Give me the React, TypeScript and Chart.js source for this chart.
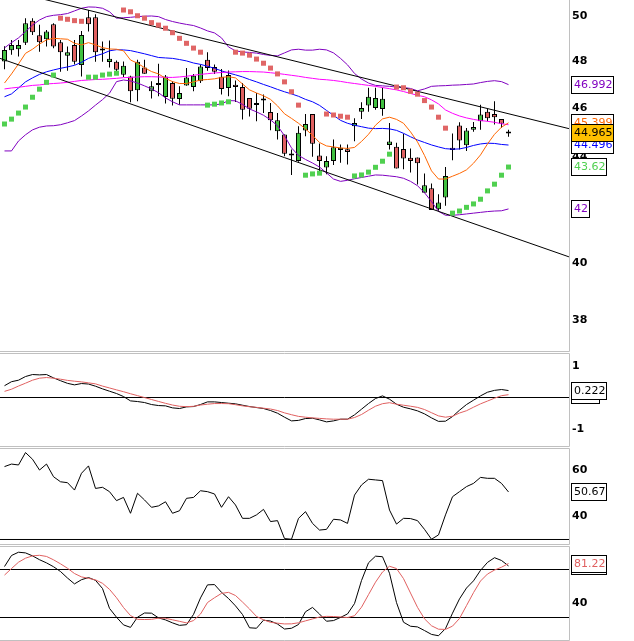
import { useEffect, useRef } from "react"
import { Chart, registerables } from "chart.js"

Chart.register(...registerables)

// daily candles
const opens = [
  47.98, 48.47, 48.52, 48.81, 49.79, 49.14, 48.96, 49.63, 48.83, 48.24,
  48.71, 47.83, 49.94, 49.94, 48.48, 47.96, 47.97, 47.41, 47.34, 46.75,
  47.73, 46.71, 47.0, 46.47, 47.06, 46.39, 46.96, 46.89, 47.14, 48.06,
  47.75, 47.33, 46.85, 46.99, 46.89, 46.43, 46.16, 46.34, 45.84, 45.05,
  44.92, 44.1, 43.86, 45.08, 45.76, 44.08, 43.6, 43.86, 44.3, 44.33,
  45.26, 45.86, 46.11, 46.01, 45.97, 44.5, 44.43, 44.34, 43.99, 44.0,
  42.62, 42.79, 41.99, 42.44, 44.39, 45.29, 44.49, 45.12, 45.46, 45.86,
  45.76, 45.56, 44.97,
]
const highs = [
  48.65, 48.93, 48.93, 49.9, 49.9, 49.6, 49.37, 49.67, 48.93, 48.64,
  48.93, 49.33, 50.27, 50.08, 48.86, 48.9, 48.03, 47.99, 47.37, 48.06,
  48.06, 47.14, 47.89, 47.4, 47.14, 46.92, 47.7, 47.45, 47.85, 48.39,
  47.85, 47.66, 47.6, 47.17, 47.06, 46.43, 46.64, 46.58, 46.22, 45.8,
  44.92, 44.32, 45.26, 45.76, 45.76, 44.56, 44.05, 44.72, 44.52, 44.52,
  45.59, 46.25, 46.86, 46.86, 46.86, 45.39, 44.59, 44.95, 44.36, 44.0,
  43.37, 42.98, 42.56, 43.62, 44.96, 45.42, 45.19, 45.43, 46.15, 45.97,
  46.29, 45.56, 45.12,
]
const lows = [
  47.65, 48.28, 48.2, 48.71, 49.15, 48.41, 48.64, 48.56, 47.54, 47.59,
  47.85, 47.34, 49.3, 47.97, 47.97, 47.73, 47.57, 47.32, 46.25, 46.29,
  47.46, 46.41, 46.5, 46.2, 46.11, 46.15, 46.95, 46.71, 47.06, 47.59,
  47.45, 46.58, 46.5, 46.26, 45.53, 45.66, 45.46, 45.8, 45.09, 44.72,
  44.05, 43.31, 43.83, 44.85, 44.03, 43.41, 43.34, 43.7, 43.79, 43.72,
  44.65, 45.56, 45.86, 45.94, 45.69, 44.32, 43.56, 43.53, 43.41, 42.94,
  42.62, 41.96, 41.93, 42.12, 43.89, 44.32, 44.26, 45.03, 45.12, 45.46,
  45.33, 45.19, 44.83,
]
const closes = [
  48.49, 48.71, 48.71, 49.67, 49.27, 48.83, 49.3, 48.64, 48.39, 48.39,
  47.97, 49.15, 49.63, 48.39, 48.46, 48.1, 47.63, 47.8, 46.71, 47.97,
  47.46, 46.92, 46.98, 47.34, 46.4, 46.64, 47.3, 47.37, 47.77, 47.7,
  47.54, 46.81, 47.4, 46.89, 45.94, 45.98, 46.14, 46.32, 45.5, 45.5,
  44.15, 44.08, 44.99, 45.35, 44.55, 43.86, 43.86, 44.41, 44.39, 44.22,
  45.39, 46.01, 46.48, 46.43, 46.4, 44.64, 43.56, 43.96, 43.86, 43.77,
  42.91, 41.96, 42.24, 43.27, 44.3, 44.68, 45.08, 45.23, 45.74, 45.59,
  45.63, 45.36, 44.965,
]

// bollinger bands
const bbUpper = [
  48.58, 48.81, 49.02, 49.3, 49.59, 49.82, 49.97, 50.03, 50.06, 50.11,
  50.23, 50.35, 50.41, 50.4, 50.35, 50.19, 49.9, 49.92, 49.94, 49.97,
  49.99, 50.0, 49.97, 49.84, 49.75, 49.68, 49.62, 49.57, 49.46, 49.33,
  49.24, 49.02, 48.62, 48.45, 48.4, 48.38, 48.35, 48.29, 48.25, 48.23,
  48.36, 48.49, 48.52, 48.48, 48.48, 48.52, 48.49, 48.36, 48.12, 47.84,
  47.47, 47.23, 47.06, 46.96, 46.94, 46.92, 46.89, 46.87, 46.83, 46.73,
  46.81, 46.92, 46.94, 46.95, 46.97, 46.98, 47.0, 47.02, 47.08, 47.13,
  47.16, 47.12, 46.992,
]
const bbMid = [
  46.48, 46.6, 46.85, 47.11, 47.28, 47.43, 47.54, 47.62, 47.69, 47.75,
  47.82, 47.95, 48.12, 48.23, 48.32, 48.45, 48.5, 48.49, 48.46, 48.39,
  48.32, 48.24, 48.16, 48.14, 48.12, 48.07, 48.01, 47.92, 47.86, 47.78,
  47.69, 47.58, 47.49, 47.41, 47.32, 47.21, 47.11, 47.0, 46.9, 46.79,
  46.69, 46.6, 46.5, 46.37, 46.27, 46.12, 45.91, 45.71, 45.5, 45.38,
  45.3, 45.24, 45.18, 45.16, 45.17, 45.15, 45.09, 44.97, 44.83, 44.7,
  44.6, 44.5, 44.42, 44.35, 44.33, 44.34, 44.4, 44.48, 44.54, 44.57,
  44.56, 44.52, 44.496,
]
const bbLower = [
  44.26, 44.26, 44.66, 44.91, 45.11, 45.22, 45.27, 45.28, 45.32, 45.4,
  45.49, 45.68, 45.89, 46.13, 46.36, 46.63, 47.12, 47.19, 47.15, 47.06,
  46.94, 46.81, 46.65, 46.43, 46.27, 46.14, 46.14, 46.14, 46.14, 46.14,
  46.14, 46.18, 46.32, 46.31, 46.16, 45.97, 45.85, 45.71, 45.52, 45.28,
  44.87, 44.38, 44.08, 43.92, 43.78, 43.62, 43.39, 43.15, 43.06, 43.1,
  43.16, 43.21, 43.26, 43.31, 43.3, 43.27, 43.24, 43.18, 43.06, 42.89,
  42.62, 42.28, 41.91, 41.76, 41.76, 41.78, 41.81, 41.84, 41.87, 41.9,
  41.92, 41.93, 42.0,
]

// moving averages
const maFast = [
  47.06, 47.45, 47.88, 48.34, 48.52, 48.75, 48.93, 49.0, 48.98, 48.96,
  48.78, 48.71, 48.81, 48.71, 48.59, 48.53, 48.52, 48.45, 48.05, 47.91,
  47.72, 47.55, 47.45, 47.26, 47.12, 47.04, 47.04, 47.11, 47.19, 47.21,
  47.24, 47.3, 47.33, 47.28, 47.02, 46.77, 46.64, 46.52, 46.37, 46.1,
  45.77, 45.58, 45.38, 45.15, 44.89, 44.6, 44.46, 44.42, 44.38, 44.36,
  44.4, 44.64, 44.93, 45.3, 45.56, 45.63, 45.54, 45.38, 45.03, 44.62,
  44.08, 43.47, 43.15, 43.15, 43.26, 43.37, 43.51, 43.77, 44.1, 44.54,
  44.93, 45.22, 45.399,
]
const maSlow = [
  46.81, 46.85, 46.88, 46.92, 46.96, 46.98, 47.02, 47.04, 47.06, 47.09,
  47.13, 47.17, 47.19, 47.21, 47.22, 47.24, 47.26, 47.29, 47.3, 47.32,
  47.33, 47.33, 47.32, 47.3, 47.3, 47.32, 47.35, 47.39, 47.43, 47.46,
  47.49, 47.51, 47.53, 47.54, 47.55, 47.55, 47.54, 47.53, 47.5, 47.47,
  47.43, 47.39, 47.35, 47.3, 47.26, 47.22, 47.2, 47.17, 47.13, 47.08,
  47.04, 47.0, 46.96, 46.92, 46.87, 46.82, 46.77, 46.7, 46.62, 46.54,
  46.48, 46.35, 46.18, 45.93, 45.79, 45.68, 45.6, 45.54, 45.49, 45.46,
  45.42, 45.36, 45.32,
]

// parabolic SAR, split by side
const sarBull = [
  45.35, 45.55, 45.8, 46.05, 46.46, 46.8, 47.09, 47.4, null, null,
  null, null, 47.31, 47.31, 47.4, 47.44, 47.48, null, null, null,
  null, null, null, null, null, null, null, null, null, 46.13,
  46.17, 46.22, 46.27, null, null, null, null, null, null, null,
  null, null, null, 43.3, 43.35, 43.38, null, null, null, null,
  43.27, 43.31, 43.42, 43.61, 43.85, 44.13, null, null, null, null,
  null, null, null, null, 41.84, 41.92, 42.06, 42.19, 42.37, 42.69,
  42.95, 43.3, 43.62,
]
const sarBear = [
  null, null, null, null, null, null, null, null, 49.9, 49.85,
  49.79, 49.76, null, null, null, null, null, 50.27, 50.19, 50.01,
  49.9, 49.7, 49.59, 49.45, 49.25, 49.0, 48.78, 48.57, 48.39, null,
  null, null, null, 48.39, 48.35, 48.26, 48.09, 47.91, 47.7, 47.45,
  47.11, 46.69, 46.13, null, null, null, 45.76, 45.72, 45.67, 45.63,
  null, null, null, null, null, null, 46.89, 46.86, 46.71, 46.59,
  46.32, 46.05, 45.63, 45.18, null, null, null, null, null, null,
  null, null, null,
]

// channel lines (session index, price)
const channelTop = [{ x: -0.64, y: 51.26 }, { x: 80.64, y: 45.16 }]
const channelBottom = [{ x: -0.64, y: 48.12 }, { x: 80.64, y: 40.22 }]

const macd = [
  0.377, 0.505, 0.553, 0.67, 0.734, 0.723, 0.734, 0.627, 0.537, 0.452,
  0.404, 0.446, 0.43, 0.361, 0.276, 0.201, 0.127, 0.031, -0.108, -0.129,
  -0.161, -0.225, -0.257, -0.267, -0.331, -0.352, -0.299, -0.289, -0.225, -0.14,
  -0.14, -0.161, -0.182, -0.203, -0.246, -0.289, -0.321, -0.352, -0.416, -0.502,
  -0.629, -0.747, -0.731, -0.672, -0.661, -0.715, -0.779, -0.747, -0.693, -0.693,
  -0.555, -0.374, -0.193, -0.033, 0.052, -0.054, -0.214, -0.31, -0.363, -0.427,
  -0.523, -0.651, -0.763, -0.757, -0.608, -0.406, -0.225, -0.086, 0.052, 0.169,
  0.228, 0.255, 0.222,
]
const macdSignal = [
  0.196, 0.265, 0.366, 0.457, 0.553, 0.617, 0.638, 0.617, 0.585, 0.547,
  0.521, 0.499, 0.468, 0.436, 0.365, 0.305, 0.244, 0.185, 0.12, 0.06,
  -0.002, -0.064, -0.126, -0.186, -0.241, -0.28, -0.292, -0.281, -0.241, -0.214,
  -0.193, -0.193, -0.198, -0.23, -0.267, -0.294, -0.315, -0.342, -0.368, -0.416,
  -0.491, -0.55, -0.603, -0.629, -0.651, -0.667, -0.683, -0.693, -0.693, -0.693,
  -0.64, -0.544, -0.406, -0.278, -0.198, -0.166, -0.214, -0.246, -0.278, -0.315,
  -0.384, -0.486, -0.587, -0.629, -0.597, -0.496, -0.422, -0.31, -0.203, -0.113,
  -0.022, 0.058, 0.09,
]

const rsi = [
  61.7, 62.8, 62.4, 67.8, 64.9, 60.2, 62.8, 57.3, 55.1, 54.7,
  51.5, 58.8, 62.0, 52.2, 52.7, 50.8, 46.9, 48.3, 41.4, 50.1,
  47.2, 44.0, 44.6, 46.4, 41.4, 42.5, 47.9, 48.3, 51.2, 50.8,
  49.8, 44.0, 48.6, 45.0, 39.2, 39.2, 40.7, 43.1, 37.8, 38.2,
  30.4, 30.1, 39.2, 42.1, 37.0, 34.1, 34.4, 38.8, 38.5, 37.0,
  49.3, 53.7, 56.2, 55.9, 55.6, 42.8, 36.7, 39.2, 39.1, 38.2,
  34.4, 30.1, 32.0, 40.7, 48.6, 50.8, 53.0, 54.4, 57.0, 56.6,
  56.6, 54.4, 50.67,
]

const stochK = [
  78.1, 89.6, 93.0, 92.3, 89.2, 85.2, 81.9, 77.9, 72.9, 66.1,
  60.0, 64.4, 66.6, 63.7, 55.2, 34.5, 25.3, 17.3, 14.7, 25.3,
  29.7, 29.5, 24.6, 22.5, 19.4, 16.8, 17.5, 28.2, 45.4, 59.0,
  59.3, 51.2, 44.8, 37.1, 28.1, 14.3, 13.8, 22.2, 21.3, 18.2,
  13.0, 13.8, 17.7, 31.0, 35.5, 28.6, 21.1, 21.8, 25.1, 28.7,
  39.5, 63.5, 82.0, 88.9, 88.3, 71.1, 40.5, 20.1, 15.9, 15.2,
  11.4, 7.4, 6.0, 13.5, 29.5, 44.4, 55.7, 63.2, 74.1, 82.4,
  87.3, 84.4, 78.75,
]
const stochD = [
  69.2, 76.0, 82.6, 86.8, 89.2, 89.8, 88.6, 85.1, 80.9, 76.3,
  70.8, 67.3, 65.8, 64.2, 60.6, 54.3, 45.6, 35.4, 27.0, 23.1,
  22.9, 23.1, 24.3, 24.2, 22.6, 21.0, 19.4, 21.8, 28.6, 40.6,
  45.6, 50.1, 51.2, 47.9, 41.1, 33.9, 26.1, 22.6, 20.0, 19.1,
  18.3, 18.4, 19.5, 21.5, 23.5, 25.5, 26.2, 26.0, 25.6, 25.0,
  26.8, 35.7, 48.8, 61.8, 72.4, 78.4, 76.0, 65.5, 50.5, 35.6,
  23.6, 16.4, 12.8, 12.6, 16.0, 24.0, 37.4, 50.9, 63.0, 70.3,
  74.4, 77.4, 81.22,
]

const priceTicks = [38, 40, 42, 44, 46, 48, 50]
const macdTicks = [-1, 1]
const rsiTicks = [40, 60]
const stochTicks = [40, 80]

const macdLevels = [0]
const rsiLevels = [30]
const stochLevels = [25, 75]

// layout
const X_MIN = -4.5 / 7
const X_MAX = (569 - 4.5) / 7
const AXIS_W = 65

const C = {
  up: "#40c040",
  down: "#e06060",
  band: "#8000c0",
  mid: "#0000ff",
  fast: "#ff6600",
  slow: "#ff00ff",
  sarUp: "#50d050",
  sarDown: "#e06666",
  signal: "#e06060",
  frame: "#c0c0c0",
  last: "#ffc000",
}

const last = (a: (number | null)[]) => a[a.length - 1] as number
const fmt = (v: number) => String(Number(v.toFixed(3)))
const pts = (values: (number | null)[]) => values.map((y, x) => ({ x, y }))

const line = (values: (number | null)[], color: string, order: number) => ({
  type: "line" as const,
  data: pts(values),
  borderColor: color,
  borderWidth: 1,
  pointRadius: 0,
  fill: false,
  tension: 0,
  order,
})

const segment = (data: { x: number; y: number }[], order: number) => ({
  type: "line" as const,
  data,
  borderColor: "#000",
  borderWidth: 1,
  pointRadius: 0,
  fill: false,
  order,
})

const levelLines = (levels: number[]) =>
  levels.map((v) =>
    segment(
      [
        { x: X_MIN, y: v },
        { x: X_MAX, y: v },
      ],
      50
    )
  )

const sarDots = (values: (number | null)[], color: string) => ({
  type: "line" as const,
  data: pts(values),
  showLine: false,
  pointStyle: "rect",
  pointRadius: 3.54,
  pointBorderWidth: 0,
  pointBackgroundColor: color,
  pointBorderColor: color,
  order: 1,
})

interface Box {
  value: number
  color: string
  fill?: string
}

// grey panel frame
const framePlugin = (top: number, bottom: number) => ({
  id: "frame",
  afterDatasetsDraw(chart: Chart) {
    const { ctx, chartArea } = chart
    const r = chartArea.right + 0.5
    ctx.save()
    ctx.strokeStyle = C.frame
    ctx.lineWidth = 1
    ctx.beginPath()
    ctx.moveTo(-1, top)
    ctx.lineTo(r, top)
    ctx.lineTo(r, bottom)
    ctx.lineTo(-1, bottom)
    ctx.stroke()
    ctx.restore()
  },
})

// last-value labels on the right axis
const boxesPlugin = (boxes: Box[]) => ({
  id: "boxes",
  afterDraw(chart: Chart) {
    const { ctx, chartArea } = chart
    const scale = chart.scales.y
    ctx.save()
    ctx.font = '11px "DejaVu Sans"'
    ctx.textBaseline = "middle"
    ctx.lineWidth = 1
    for (const b of boxes) {
      const text = fmt(b.value)
      const py = scale.getPixelForValue(b.value)
      const w = Math.round(ctx.measureText(text).width + 4)
      const left = chartArea.right + 2.5
      const top = Math.round(py - 9) + 0.5
      ctx.fillStyle = b.fill || "#fff"
      ctx.fillRect(left, top, w, 17)
      ctx.strokeStyle = "#000"
      ctx.strokeRect(left, top, w, 17)
      ctx.fillStyle = b.color
      ctx.fillText(text, left + 2.5, top + 9)
    }
    ctx.restore()
  },
})

const xAxis = { type: "linear", min: X_MIN, max: X_MAX, offset: false, display: false }

const yAxis = (type: string, min: number, max: number, ticks: number[]) => ({
  type,
  min,
  max,
  position: "right",
  beginAtZero: false,
  grid: { display: false, drawTicks: false },
  border: { display: false },
  afterFit: (s: any) => {
    s.width = AXIS_W
    s.paddingTop = 0
    s.paddingBottom = 0
  },
  afterBuildTicks: (s: any) => {
    s.ticks = ticks.map((value) => ({ value }))
  },
  ticks: {
    autoSkip: false,
    padding: 3,
    color: "#000",
    font: { family: "DejaVu Sans", size: 11, weight: "bold" },
    callback: (v: number) => String(v),
  },
})

const baseOptions = (padTop: number, y: any) => ({
  responsive: false,
  animation: false,
  events: [],
  layout: { autoPadding: false, padding: { top: padTop, bottom: 1, left: 0, right: 0 } },
  plugins: { legend: { display: false }, tooltip: { enabled: false } },
  scales: { x: xAxis, y },
})

function priceConfig(): any {
  return {
    type: "bar",
    data: {
      datasets: [
        {
          type: "bar",
          data: lows.map((l, i) => ({ x: i, y: [l, highs[i]] })),
          backgroundColor: "#000",
          borderWidth: 0,
          barThickness: 1,
          grouped: false,
          inflateAmount: 0,
          order: 20,
        },
        {
          type: "bar",
          data: opens.map((o, i) => ({ x: i, y: [o, closes[i]] })),
          backgroundColor: opens.map((o, i) => (closes[i] >= o ? C.up : C.down)),
          borderColor: "#000",
          borderWidth: 1,
          borderSkipped: false,
          barThickness: 5,
          grouped: false,
          minBarLength: 2,
          inflateAmount: 0,
          order: 19,
        },
        line(bbUpper, C.band, 10),
        line(bbLower, C.band, 10),
        line(bbMid, C.mid, 9),
        line(maSlow, C.slow, 8),
        line(maFast, C.fast, 7),
        segment(channelTop, 5),
        segment(channelBottom, 5),
        sarDots(sarBull, C.sarUp),
        sarDots(sarBear, C.sarDown),
      ],
    },
    options: baseOptions(0, yAxis("logarithmic", 36.94, 50.727, priceTicks)),
    plugins: [
      framePlugin(-0.5, 351.5),
      boxesPlugin([
        { value: last(bbUpper), color: C.band },
        { value: last(maFast), color: C.fast },
        { value: last(bbMid), color: C.mid },
        { value: last(sarBull), color: C.sarUp },
        { value: last(bbLower), color: C.band },
        { value: last(closes), color: "#000", fill: C.last },
      ]),
    ],
  }
}

function macdConfig(): any {
  return {
    type: "line",
    data: {
      datasets: [...levelLines(macdLevels), line(macd, "#000", 2), line(macdSignal, C.signal, 1)],
    },
    options: baseOptions(2, yAxis("linear", -1.5495, 1.39, macdTicks)),
    plugins: [
      framePlugin(1.5, 94.5),
      boxesPlugin([
        { value: last(macdSignal), color: C.signal },
        { value: last(macd), color: "#000" },
      ]),
    ],
  }
}

function rsiConfig(): any {
  return {
    type: "line",
    data: { datasets: [...levelLines(rsiLevels), line(rsi, "#000", 1)] },
    options: baseOptions(2, yAxis("linear", 28.04, 69.35, rsiTicks)),
    plugins: [framePlugin(1.5, 97.5), boxesPlugin([{ value: last(rsi), color: "#000" }])],
  }
}

function stochConfig(): any {
  return {
    type: "line",
    data: {
      datasets: [...levelLines(stochLevels), line(stochK, "#000", 2), line(stochD, C.signal, 1)],
    },
    options: baseOptions(2, yAxis("linear", 1.5625, 98.44, stochTicks)),
    plugins: [
      framePlugin(1.5, 95.5),
      boxesPlugin([
        { value: last(stochK), color: "#000" },
        { value: last(stochD), color: C.signal },
      ]),
    ],
  }
}

const panels = [
  { height: 352, config: priceConfig },
  { height: 95, config: macdConfig },
  { height: 98, config: rsiConfig },
  { height: 96, config: stochConfig },
]

export default function App() {
  const refs = useRef<(HTMLCanvasElement | null)[]>([])

  useEffect(() => {
    document.body.style.margin = "0"
    const charts: Chart[] = []
    panels.forEach((p, i) => {
      const canvas = refs.current[i]
      if (!canvas) return
      charts.push(new Chart(canvas, p.config()))
    })
    return () => {
      charts.forEach((c) => c.destroy())
    }
  }, [])

  return (
    <div style={{ width: 634, background: "#fff" }}>
      {panels.map((p, i) => (
        <canvas
          key={i}
          ref={(el) => {
            refs.current[i] = el
          }}
          width={634}
          height={p.height}
          style={{ display: "block" }}
        />
      ))}
    </div>
  )
}
